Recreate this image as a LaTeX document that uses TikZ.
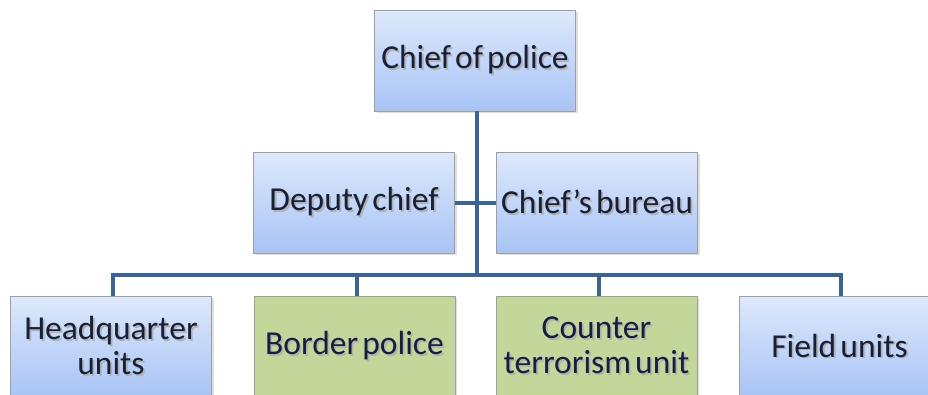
\documentclass[tikz,border=0pt]{standalone}
\usepackage{fontspec}
\setmainfont{Carlito}[WordSpace=0.55]
\usetikzlibrary{shadows}
\definecolor{linec}{HTML}{3A6592}
\definecolor{bluetop}{HTML}{DDE8FB}
\definecolor{bluebot}{HTML}{A8C4F5}
\definecolor{greenf}{HTML}{C4D79B}
\definecolor{txtc}{HTML}{16203A}
\newcommand{\shtxt}[1]{\leavevmode\rlap{\hspace{1.8pt}\raisebox{-1.8pt}{\color{black!30}#1}}#1}
\tikzset{
  orgbox/.style={draw=gray!75, line width=0.8pt, minimum width=201pt, minimum height=101pt,
    inner sep=0pt, align=center, text=txtc,
    font=\fontsize{33.5}{35}\selectfont,
    drop shadow={opacity=0.25, shadow xshift=2pt, shadow yshift=-2pt}},
  bluebox/.style={orgbox, top color=bluetop, bottom color=bluebot},
  greenbox/.style={orgbox, fill=greenf},
  conn/.style={draw=linec, line width=4pt, line join=miter}
}
\begin{document}
\begin{tikzpicture}[x=1pt,y=-1pt]
\useasboundingbox (0,0) rectangle (928,394);
\clip (0,0) rectangle (928,394);
\fill[white] (0,0) rectangle (928,394);
\coordinate (bus) at (477,275);
\node[bluebox] (chief) at (475,60.5) {\shtxt{Chief of police}};
\node[bluebox] (deputy) at (354,202.5) {\shtxt{Deputy chief}};
\node[bluebox] (bureau) at (597,202.5) {\shtxt{Chief’s bureau}};
\node[bluebox] (hq) at (111,346.5) {\shtxt{Headquarter}\\\shtxt{units}};
\node[greenbox] (border) at (354.5,346.5) {\shtxt{Border police}};
\node[greenbox] (counter) at (596.5,346.5) {\shtxt{Counter}\\\shtxt{terrorism unit}};
\node[bluebox] (field) at (839.5,346.5) {\shtxt{Field units}};
\draw[conn] (chief.south -| bus) -- (bus);
\draw[conn] (deputy.east) -- (bureau.west);
\draw[conn] (hq.north -| 113,0) -- (113,275) -- (841,275) -- (field.north -| 841,0);
\draw[conn] (border.north -| 357,0) -- (357,275);
\draw[conn] (counter.north -| 599,0) -- (599,275);
\end{tikzpicture}
\end{document}
